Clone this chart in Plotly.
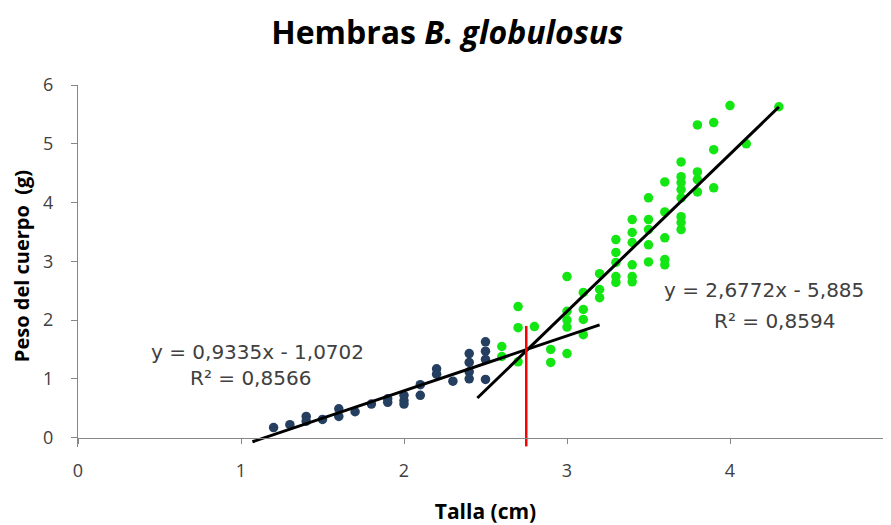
import plotly.graph_objects as go

# datos
talla_azul = [1.2, 1.3, 1.4, 1.4, 1.5, 1.6, 1.6, 1.7, 1.8, 1.9, 1.9, 2.0, 2.0, 2.0,
              2.1, 2.1, 2.2, 2.2, 2.3, 2.4, 2.4, 2.4, 2.4, 2.5, 2.5, 2.5, 2.5]
peso_azul = [0.17, 0.22, 0.36, 0.28, 0.31, 0.49, 0.36, 0.44, 0.57, 0.66, 0.6, 0.72, 0.63, 0.57,
             0.9, 0.72, 1.17, 1.08, 0.96, 1.43, 1.28, 1.12, 1.0, 1.63, 1.47, 1.33, 0.99]

talla_verde = [2.6, 2.6, 2.7, 2.7, 2.7, 2.8, 2.9, 2.9,
               3.0, 3.0, 3.0, 3.0, 3.0, 3.1, 3.1, 3.1, 3.1, 3.2, 3.2, 3.2,
               3.3, 3.3, 3.3, 3.3, 3.3, 3.4, 3.4, 3.4, 3.4, 3.4, 3.4,
               3.5, 3.5, 3.5, 3.5, 3.5, 3.6, 3.6, 3.6, 3.6, 3.6,
               3.7, 3.7, 3.7, 3.7, 3.7, 3.7, 3.7, 3.7, 3.8, 3.8, 3.8, 3.8,
               3.9, 3.9, 3.9, 4.0, 4.1, 4.3]
peso_verde = [1.55, 1.38, 2.23, 1.87, 1.29, 1.89, 1.5, 1.28,
              2.74, 2.15, 2.0, 1.88, 1.43, 2.47, 2.18, 2.01, 1.75, 2.79, 2.52, 2.38,
              3.37, 3.15, 2.98, 2.74, 2.64, 3.71, 3.49, 3.32, 2.94, 2.74, 2.65,
              4.08, 3.71, 3.54, 3.28, 2.99, 4.35, 3.84, 3.40, 3.03, 2.94,
              4.69, 4.44, 4.34, 4.22, 4.08, 3.76, 3.66, 3.54, 5.32, 4.52, 4.39, 4.18,
              5.36, 4.90, 4.25, 5.65, 5.0, 5.63]

# lineas de tendencia
pend_azul, orig_azul = 0.9335, -1.0702
pend_verde, orig_verde = 2.6772, -5.885
rango_azul = [1.07, 3.2]
rango_verde = [2.45, 4.3]
corte_x = 2.75
corte_y = [-0.15, 1.9]

y_min = -0.16

fig = go.Figure()
fig.add_trace(go.Scatter(x=talla_azul, y=peso_azul, mode="markers",
                         marker=dict(color="#243F60", size=9.5), cliponaxis=False))
fig.add_trace(go.Scatter(x=talla_verde, y=peso_verde, mode="markers",
                         marker=dict(color="#14E614", size=9.5), cliponaxis=False))
fig.add_trace(go.Scatter(x=rango_azul, y=[pend_azul * x + orig_azul for x in rango_azul],
                         mode="lines", line=dict(color="black", width=3)))
fig.add_trace(go.Scatter(x=rango_verde, y=[pend_verde * x + orig_verde for x in rango_verde],
                         mode="lines", line=dict(color="black", width=3)))
fig.add_trace(go.Scatter(x=[corte_x, corte_x], y=corte_y, mode="lines",
                         line=dict(color="#FF0000", width=2.5)))

fuente = "Open Sans, sans-serif"
texto = dict(family="DejaVu Sans, sans-serif", size=20, color="#404040")
fig.add_annotation(x=1.10, y=1.46, text="y = 0,9335x - 1,0702", showarrow=False, font=texto)
fig.add_annotation(x=1.06, y=1.02, text="R² = 0,8566", showarrow=False, font=texto)
fig.add_annotation(x=4.21, y=2.52, text="y = 2,6772x - 5,885", showarrow=False, font=texto)
fig.add_annotation(x=4.27, y=1.99, text="R² = 0,8594", showarrow=False, font=texto)

# la pagina deja 8 px de margen arriba y a la izquierda
fig.update_layout(
    width=891, height=525,
    margin=dict(l=70, r=6, t=77, b=86),
    paper_bgcolor="white", plot_bgcolor="white",
    showlegend=False,
    font=dict(family=fuente, color="#404040"),
    title=dict(text="<b>Hembras <i>B. globulosus</i></b>", x=0.493, xanchor="center",
               y=0.952, yanchor="middle", font=dict(family=fuente, size=32, color="black")),
)
fig.update_xaxes(range=[0, 5], dtick=1, showgrid=False, zeroline=False, automargin=False,
                 showline=True, linecolor="#868686", linewidth=1,
                 ticks="outside", ticklen=5, tickcolor="#868686",
                 anchor="free", position=-y_min / (6 - y_min),
                 ticklabelstandoff=12, ticklabeloverflow="allow",
                 tickfont=dict(size=18, color="#404040"),
                 title=dict(text="<b>Talla (cm)</b>", font=dict(size=21, color="black"), standoff=23))
fig.update_yaxes(range=[y_min, 6], tickvals=[0, 1, 2, 3, 4, 5, 6], showgrid=False, zeroline=False,
                 automargin=False,
                 showline=True, linecolor="#868686", linewidth=1,
                 ticks="outside", ticklen=6, tickcolor="#868686",
                 ticklabelstandoff=14,
                 tickfont=dict(size=18, color="#404040"),
                 title=dict(text="<b>Peso del cuerpo  (g)</b>", font=dict(size=20, color="black"), standoff=14))

fig.write_html("out.html")
